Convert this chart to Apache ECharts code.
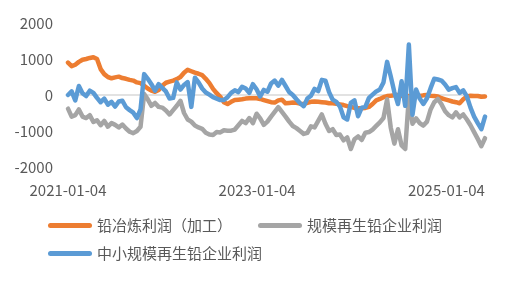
<!DOCTYPE html>
<html><head><meta charset="utf-8">
<script src="https://cdn.jsdelivr.net/npm/echarts@6/dist/echarts.min.js"></script>
<style>html,body{margin:0;padding:0;background:#fff}#c{width:509px;height:282px}</style>
</head><body><div id="c"></div>
<script>
const dates = [
'2021-01-04','2021-01-18','2021-02-01','2021-02-15','2021-03-01','2021-03-15','2021-03-29','2021-04-12','2021-04-26','2021-05-10',
'2021-05-24','2021-06-07','2021-06-21','2021-07-05','2021-07-19','2021-08-02','2021-08-16','2021-08-30','2021-09-13','2021-09-27',
'2021-10-11','2021-10-25','2021-11-08','2021-11-22','2021-12-06','2021-12-20',
'2022-01-03','2022-01-17','2022-01-31','2022-02-14','2022-02-28','2022-03-14','2022-03-28','2022-04-11','2022-04-25','2022-05-09',
'2022-05-23','2022-06-06','2022-06-20','2022-07-04','2022-07-18','2022-08-01','2022-08-15','2022-08-29','2022-09-12','2022-09-26',
'2022-10-10','2022-10-24','2022-11-07','2022-11-21','2022-12-05','2022-12-19',
'2023-01-02','2023-01-16','2023-01-30','2023-02-13','2023-02-27','2023-03-13','2023-03-27','2023-04-10','2023-04-24','2023-05-08',
'2023-05-22','2023-06-05','2023-06-19','2023-07-03','2023-07-17','2023-07-31','2023-08-14','2023-08-28','2023-09-11','2023-09-25',
'2023-10-09','2023-10-23','2023-11-06','2023-11-20','2023-12-04','2023-12-18',
'2024-01-01','2024-01-15','2024-01-29','2024-02-12','2024-02-26','2024-03-11','2024-03-25','2024-04-08','2024-04-22','2024-05-06',
'2024-05-20','2024-06-03','2024-06-17','2024-07-01','2024-07-15','2024-07-29','2024-08-12','2024-08-26','2024-09-09','2024-09-23',
'2024-10-07','2024-10-21','2024-11-04','2024-11-18','2024-12-02','2024-12-16','2024-12-30',
'2025-01-13','2025-01-27','2025-02-10','2025-02-24','2025-03-10','2025-03-24','2025-04-07','2025-04-21','2025-05-05','2025-05-19','2025-06-02'
];

const smeltingProfit = [
900,800,840,920,980,1000,1030,1050,1000,720,
580,500,465,490,510,470,450,420,400,350,
330,260,180,120,90,140,
260,340,370,400,440,500,620,700,660,620,
590,550,450,330,170,50,-50,-200,-250,-190,
-140,-130,-120,-100,-90,-90,
-90,-110,-140,-170,-200,-210,-150,-130,-230,-220,
-210,-215,-240,-250,-220,-190,-180,-190,-200,-210,
-230,-230,-240,-260,-280,-310,
-330,-360,-370,-370,-360,-330,-250,-150,-110,-60,
-30,-20,-10,0,-20,-40,-30,-20,0,-30,
-10,0,-20,-30,-40,-90,-120,
-150,-180,-200,-230,-120,-40,-20,-30,-30,-50,-40
];

const largeRecycledProfit = [
-380,-600,-560,-400,-600,-640,-560,-750,-700,-840,
-720,-880,-780,-830,-900,-820,-930,-1020,-1060,-1000,
-880,30,-120,-300,-220,-330,
-350,-430,-540,-420,-300,-160,-500,-680,-740,-850,
-900,-940,-1050,-1100,-1110,-1030,-1040,-980,-990,-990,
-960,-840,-720,-780,-640,-780,
-520,-650,-830,-740,-600,-470,-340,-470,-600,-740,
-860,-920,-1000,-1080,-1050,-870,-900,-720,-540,-800,
-1000,-950,-1110,-1100,-1260,-1180,
-1500,-1230,-1150,-1250,-1050,-1030,-960,-860,-760,-640,
-120,-900,-1350,-950,-1400,-1500,-60,-800,-650,-780,
-850,-740,-400,-200,-110,-260,-450,
-560,-620,-480,-620,-540,-680,-840,-1030,-1220,-1420,-1200
];

const smallRecycledProfit = [
0,100,-150,250,50,-30,120,60,-80,-200,
-100,-270,-190,-320,-180,-160,-340,-420,-490,-640,
-400,580,450,300,120,300,
200,100,-100,-80,350,150,280,360,-330,480,
350,180,70,10,-60,-100,-140,-140,-60,60,
130,80,230,180,60,300,
160,-40,140,90,320,400,260,420,250,80,
0,-120,-230,-310,-100,-20,170,110,420,400,
80,-130,-190,-320,-620,-680,
-220,-150,-590,-350,-330,-80,10,100,150,350,
920,520,80,-250,380,-300,1400,-550,150,-100,
-250,-90,190,450,430,400,290,
150,190,220,60,130,-40,-350,-600,-780,-950,-600
];

const seriesNames = ['铅冶炼利润（加工）', '规模再生铅企业利润', '中小规模再生铅企业利润'];
const seriesColors = ['#ED7D31', '#A5A5A5', '#5B9BD5'];
const xTickLabels = ['2021-01-04', '2023-01-04', '2025-01-04'];
const yMin = -2000, yMax = 2000, yStep = 1000;

const FONT = "'Noto Sans CJK SC', 'Noto Sans', sans-serif";
const TXT = '#595959';
const ts = d => echarts.time.parse(d).getTime();

const chart = echarts.init(document.getElementById('c'), null, {renderer: 'canvas'});
const allData = [smeltingProfit, largeRecycledProfit, smallRecycledProfit];

const capsule = 'path://M2.5,0 H41.5 A2.5,2.5 0 0 1 41.5,5 H2.5 A2.5,2.5 0 0 1 2.5,0 Z';
function legendAt(name, left, top) {
  return {
    data: [name], left: left, top: top, padding: 0, selectedMode: false,
    icon: capsule, itemWidth: 44, itemHeight: 5, itemGap: 0,
    textStyle: {color: TXT, fontSize: 15, fontFamily: FONT}
  };
}

const series = [{
  type: 'line', name: '_zero', data: [], z: 1, silent: true,
  markLine: {
    silent: true, symbol: ['none', 'none'], animation: false, z: 1,
    label: {show: false},
    lineStyle: {color: '#D9D9D9', width: 1.5, type: 'solid'},
    emphasis: {disabled: true},
    data: [{yAxis: 0}]
  }
}];
allData.forEach((arr, k) => {
  series.push({
    type: 'line', name: seriesNames[k],
    data: dates.map((d, i) => [ts(d), arr[i]]),
    showSymbol: false, symbol: 'none', smooth: false, z: 2 + k,
    itemStyle: {color: seriesColors[k]},
    lineStyle: {color: seriesColors[k], width: 4.5, join: 'round', cap: 'round'},
    emphasis: {disabled: true},
    animation: false
  });
});

chart.setOption({
  animation: false,
  backgroundColor: '#fff',
  textStyle: {fontFamily: FONT},
  grid: {left: 68, right: 24, top: 23, bottom: 115, outerBoundsMode: 'none', containLabel: false},
  xAxis: {
    type: 'value',
    min: ts(dates[0]),
    max: ts(dates[dates.length - 1]),
    axisLine: {show: false},
    axisTick: {show: false},
    splitLine: {show: false},
    axisLabel: {
      color: TXT, fontSize: 15, fontFamily: FONT, margin: 16,
      customValues: xTickLabels.map(ts),
      hideOverlap: false,
      showMinLabel: true, showMaxLabel: true,
      formatter: v => echarts.time.format(v, '{yyyy}-{MM}-{dd}', false)
    }
  },
  yAxis: {
    type: 'value', min: yMin, max: yMax, interval: yStep,
    axisLine: {show: false},
    axisTick: {show: false},
    splitLine: {show: false},
    axisLabel: {color: TXT, fontSize: 15, fontFamily: FONT, margin: 15, formatter: v => String(v)}
  },
  legend: [
    legendAt(seriesNames[0], 48, 218),
    legendAt(seriesNames[1], 258, 218),
    legendAt(seriesNames[2], 48, 246)
  ],
  tooltip: {show: false},
  series: series
});
</script>
</body></html>
